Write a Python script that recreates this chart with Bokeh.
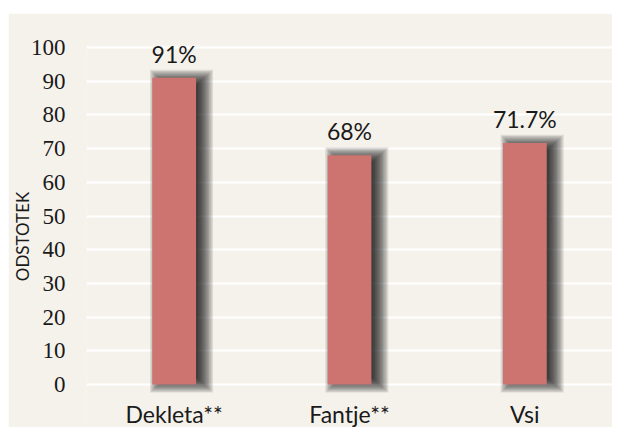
from bokeh.plotting import figure
from bokeh.models import ColumnDataSource, Range1d, FactorRange, FixedTicker, LabelSet, Spacer
from bokeh.layouts import column, row
from bokeh.transform import dodge
from bokeh.core.properties import value
from bokeh.embed import file_html
from bokeh.resources import INLINE

categories = ["Dekleta**", "Fantje**", "Vsi"]
values = [91, 68, 71.7]
y_ticks = [0, 10, 20, 30, 40, 50, 60, 70, 80, 90, 100]
y_label = "ODSTOTEK"

labels = [f"{v:g}%" for v in values]

BG = "#F5F2EC"
BAR = "#CD7370"
FONT = "Lato"
TXT = "#1a1a1a"

src = ColumnDataSource(dict(cat=categories, val=values, lab=labels,
                            zero=[0] * len(categories)))

LEFT_PAD = 8
W, H = 612 - LEFT_PAD, 414
p = figure(
    x_range=FactorRange(*categories, range_padding=0),
    y_range=Range1d(-12.75, 100.6),
    width=W, height=H,
    output_backend="svg", toolbar_location=None,
    background_fill_color=BG, border_fill_color=BG,
    min_border_left=76, min_border_right=0, min_border_top=32, min_border_bottom=0,
    outline_line_color=None,
)

# soft shadow to the right of each bar (layered translucent boxes)
N = 14
for i in range(N):
    f = i / (N - 1)
    spread = -2.4 + 4.8 * f
    shadow = dict(cat=categories,
                  top=[v + spread for v in values],
                  bottom=[0 - spread for v in values])
    p.vbar(x=dodge("cat", 0.042, range=p.x_range), top="top", bottom="bottom",
           width=0.25 - 0.09 + 0.2 * f,
           source=ColumnDataSource(shadow),
           fill_color="black", fill_alpha=0.10, line_color=None)

p.vbar(x="cat", top="val", bottom=0, width=0.25, source=src,
       fill_color=BAR, line_color=None)

p.add_layout(LabelSet(x="cat", y="val", text="lab", source=src,
                      text_align="center", text_baseline="alphabetic",
                      y_offset=15, text_font=value(FONT), text_font_size="23px",
                      text_color=TXT))

p.add_layout(LabelSet(x="cat", y="zero", text="cat", source=src,
                      text_align="center", text_baseline="alphabetic",
                      y_offset=-38, text_font=value(FONT), text_font_size="23px",
                      text_color=TXT))

p.xaxis.visible = False
p.xgrid.grid_line_color = None
p.ygrid.grid_line_color = "white"
p.ygrid.grid_line_width = 2
p.yaxis.ticker = FixedTicker(ticks=y_ticks)

ax = p.yaxis[0]
ax.axis_line_color = None
ax.major_tick_line_color = None
ax.minor_tick_line_color = None
ax.major_label_text_font = "Liberation Sans Narrow"
ax.major_label_text_font_size = "23px"
ax.major_label_text_color = TXT
ax.major_label_standoff = 15
ax.axis_label = y_label
ax.axis_label_text_font = FONT
ax.axis_label_text_font_size = "17px"
ax.axis_label_text_font_style = "normal"
ax.axis_label_text_color = TXT
ax.axis_label_standoff = -5

layout = column(Spacer(width=612, height=13), row(Spacer(width=LEFT_PAD, height=H), p))
open("out.html", "w").write(file_html(layout, INLINE))
